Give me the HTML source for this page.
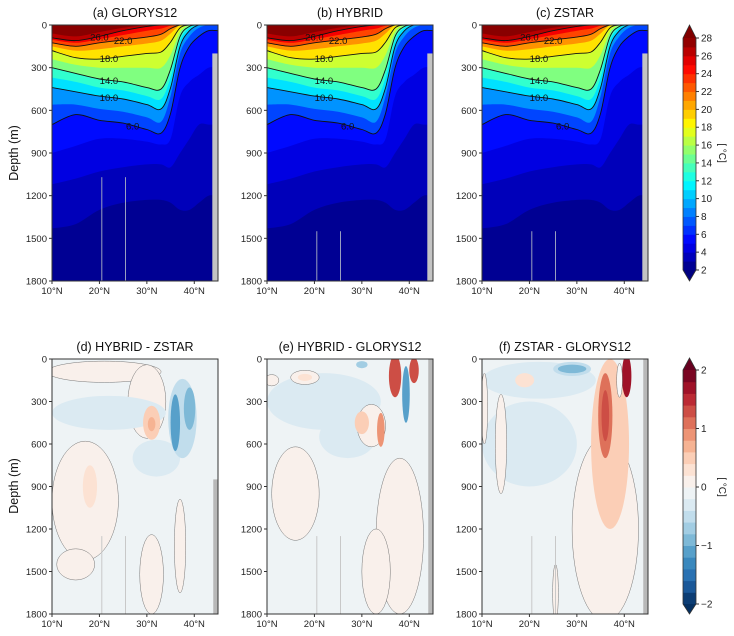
<!DOCTYPE html>
<html><head><meta charset="utf-8"><style>
html,body{margin:0;padding:0;background:#fff;}
svg{display:block;font-family:"Liberation Sans","DejaVu Sans",sans-serif;}
</style></head><body>
<svg id="fig" width="734" height="636" viewBox="0 0 734 636" xmlns="http://www.w3.org/2000/svg"></svg>
<script>
// ---------- data ----------
const lats = [10,15,20,25,30,33,35,37,39,41,43,45];
const isoLevels = [3,4,5,6,8,10,12,14,16,18,20,22,24,26,27];
const iso3  = [1430,1400,1300,1250,1230,1230,1250,1300,1300,1250,1200,1200];
const iso4  = [1120,1080,1030,1000,980,980,1000,900,800,700,700,700];
const iso5  = [900,850,800,800,820,840,800,500,400,350,300,300];
const iso6  = [700,630,670,690,735,760,620,300,150,80,40,40];
const iso8  = [560,560,590,610,650,680,500,200,80,20,0,0];
const iso10 = [440,470,500,520,560,590,440,150,40,0,0,0];
const iso12 = [370,400,440,460,500,520,370,110,20,0,0,0];
const iso14 = [300,340,380,400,440,450,310,80,10,0,0,0];
const iso16 = [240,280,300,300,300,300,210,50,0,0,0,0];
const iso18 = [180,230,240,220,200,190,120,20,0,0,0,0];
const iso20 = [150,180,170,150,130,110,60,0,0,0,0,0];
const iso22 = [125,150,125,105,85,65,25,0,0,0,0,0];
const iso24 = [105,125,100,70,40,25,5,0,0,0,0,0];
const iso26 = [90,110,80,40,10,0,0,0,0,0,0,0];
const iso27 = [60,80,50,20,0,0,0,0,0,0,0,0];
const isoCurves = [iso3,iso4,iso5,iso6,iso8,iso10,iso12,iso14,iso16,iso18,iso20,iso22,iso24,iso26,iso27];
const labelledLevels = [6,10,14,18,22,26];
const labelLat = [27,22,22,22,25,20];
const depthTicks = [0,300,600,900,1200,1500,1800];
const latTicks = [10,20,30,40];
const tempTicks = [2,4,6,8,10,12,14,16,18,20,22,24,26,28];
const diffTicks = [-2,-1,0,1,2];
const topTitles = ["(a) GLORYS12","(b) HYBRID","(c) ZSTAR"];
const botTitles = ["(d) HYBRID - ZSTAR","(e) HYBRID - GLORYS12","(f) ZSTAR - GLORYS12"];
// diff blobs: lat, depth, half-width (deg), half-height (m), value
const dLat = [21,30,22,32,17,18,31,37,31,31,37.5,36,39,15];
const dDep = [90,300,380,700,1000,900,1520,1320,450,460,420,450,350,1450];
const dW   = [12,4,12,5,7,1.5,2.5,1.2,1.8,0.8,3,1,1.2,4];
const dH   = [75,260,120,130,420,150,280,330,120,50,280,200,150,110];
const dVal = [0.1,0.1,-0.3,-0.3,0.1,0.3,0.1,0.1,0.5,0.7,-0.6,-1.0,-0.9,0.1];
const eLat = [22,27,11,18,18,32,30,34,16,38,33,37,39.3,41,30];
const eDep = [300,550,150,130,130,470,450,500,950,1250,1500,120,250,80,40];
const eW   = [12,6,1.5,3,1.5,3,1.5,0.8,5,5,3,1.3,0.8,1,1.2];
const eH   = [200,150,40,50,25,150,80,120,330,550,300,150,200,90,25];
const eVal = [-0.3,-0.3,0.1,0.1,0.3,0.1,0.5,0.8,0.1,0.1,0.1,1.4,-1.2,1.4,-0.7];
const fLat = [22,20,29,29,19,36,37,36,36,40.5,39,14,10.5,25.5];
const fDep = [150,600,70,70,150,1200,600,400,400,120,150,600,350,1650];
const fW   = [12,10,4,3,2,7,4,1.5,0.8,1,0.6,1.2,0.7,0.6];
const fH   = [130,300,50,30,50,650,600,300,180,150,120,350,250,200];
const fVal = [-0.3,-0.2,-0.6,-0.8,0.3,0.1,0.5,1.0,1.3,1.6,0.0,0.1,0.1,0.1];

// ---------- layout ----------
const NS = "http://www.w3.org/2000/svg";
const svg = document.getElementById('fig');
const px0 = [52,267,482], PW = 166;
const rowTop = [25,359], rowBot = [281,614];
function xS(p,lat){return px0[p] + (lat-10)/35*PW;}
function yS(r,d){return rowTop[r] + d/1800*(rowBot[r]-rowTop[r]);}
function mk(tag, attrs, parent){const e=document.createElementNS(NS,tag);for(const k in attrs)e.setAttribute(k,attrs[k]);(parent||svg).appendChild(e);return e;}
function clamp(v){return Math.max(0,Math.min(1,v));}
function jet(t){const r=clamp(1.5-Math.abs(4*t-3)),g=clamp(1.5-Math.abs(4*t-2)),b=clamp(1.5-Math.abs(4*t-1));return `rgb(${Math.round(r*255)},${Math.round(g*255)},${Math.round(b*255)})`;}
const rdStops=[[5,48,97],[33,102,172],[67,147,195],[146,197,222],[209,229,240],[247,247,247],[253,219,199],[244,165,130],[214,96,77],[178,24,43],[103,0,31]];
function rdbu(v){let t=(clamp((v+2)/4))*10;const i=Math.min(9,Math.floor(t)),f=t-i;const a=rdStops[i],b=rdStops[i+1];return `rgb(${Math.round(a[0]+(b[0]-a[0])*f)},${Math.round(a[1]+(b[1]-a[1])*f)},${Math.round(a[2]+(b[2]-a[2])*f)})`;}
function quant(v){return Math.sign(v)*(Math.floor(Math.abs(v)/0.2)*0.2+0.1);}
function smooth(pts){let d=`M${pts[0][0]},${pts[0][1]}`;for(let i=0;i<pts.length-1;i++){const p0=pts[Math.max(0,i-1)],p1=pts[i],p2=pts[i+1],p3=pts[Math.min(pts.length-1,i+2)];const c1=[p1[0]+(p2[0]-p0[0])/6,p1[1]+(p2[1]-p0[1])/6],c2=[p2[0]-(p3[0]-p1[0])/6,p2[1]-(p3[1]-p1[1])/6];d+=` C${c1[0].toFixed(1)},${c1[1].toFixed(1)} ${c2[0].toFixed(1)},${c2[1].toFixed(1)} ${p2[0].toFixed(1)},${p2[1].toFixed(1)}`;}return d;}

function axes(p,r,g){
  const x0=px0[p],y0=rowTop[r],y1=rowBot[r];
  mk('rect',{x:x0,y:y0,width:PW,height:y1-y0,fill:'none',stroke:'#333','stroke-width':1,},g);
  depthTicks.forEach(d=>{const y=yS(r,d);mk('line',{x1:x0-3,x2:x0,y1:y,y2:y,stroke:'#333'},g);
    const t=mk('text',{x:x0-5,y:y+3.5,'font-size':9.5,'text-anchor':'end',fill:'#222',},g);t.textContent=d;});
  latTicks.forEach(l=>{const x=xS(p,l);mk('line',{x1:x,x2:x,y1:y1,y2:y1+3,stroke:'#333'},g);
    const t=mk('text',{x:x,y:y1+13,'font-size':9.5,'text-anchor':'middle',fill:'#222',},g);t.textContent=l+'°N';});
}

// ---------- top panels ----------
for(let p=0;p<3;p++){
  const g=mk('g',{});
  const cid='clipT'+p;
  const cp=mk('clipPath',{id:cid},g);mk('rect',{x:px0[p],y:rowTop[0],width:PW,height:rowBot[0]-rowTop[0]},cp);
  const gc=mk('g',{'clip-path':`url(#${cid})`},g);
  mk('rect',{x:px0[p],y:rowTop[0],width:PW,height:256,fill:jet(0.5/26),},gc);
  isoLevels.forEach((L,i)=>{
    const next=i<isoLevels.length-1?isoLevels[i+1]:28.5;
    const pts=lats.map((la,k)=>[xS(p,la),yS(0,isoCurves[i][k])]);
    const d=`M${xS(p,10)},${rowTop[0]-2} L${pts[0][0]},${pts[0][1]} `+smooth(pts).slice(1).replace(/^[^C]*/, m=>'L'+m)+` L${xS(p,45)},${rowTop[0]-2} Z`;
    mk('path',{d:d,fill:jet(((L+next)/2-2)/26),},gc);
  });
  isoLevels.forEach((L,i)=>{
    const li=labelledLevels.indexOf(L);if(li<0)return;
    const pts=lats.map((la,k)=>[xS(p,la),yS(0,isoCurves[i][k])]);
    mk('path',{d:smooth(pts),fill:'none',stroke:'#111','stroke-width':0.9,},gc);
    const la=labelLat[li];let k=0;while(lats[k+1]<la)k++;const f=(la-lats[k])/(lats[k+1]-lats[k]);
    const dep=isoCurves[i][k]+(isoCurves[i][k+1]-isoCurves[i][k])*f;
    const x=xS(p,la),y=yS(0,dep);
    const t=mk('text',{x:x,y:y+4,'font-size':9.5,'text-anchor':'middle',fill:'#111',},gc);t.textContent=L.toFixed(1);
  });
  mk('rect',{x:xS(p,43.8),y:yS(0,200),width:xS(p,45)-xS(p,43.8),height:yS(0,1800)-yS(0,200),fill:'#c4c4c4',},gc);
  [20.5,25.5].forEach(l=>mk('line',{x1:xS(p,l),x2:xS(p,l),y1:yS(0,p==0?1070:1450),y2:rowBot[0],stroke:'#9aa0c0','stroke-width':1,},gc));
  axes(p,0,g);
  const t=mk('text',{x:px0[p]+PW/2,y:17,'font-size':12.5,'text-anchor':'middle',fill:'#111',},g);t.textContent=topTitles[p];
}

// ---------- bottom panels ----------
const diffSets=[[dLat,dDep,dW,dH,dVal],[eLat,eDep,eW,eH,eVal],[fLat,fDep,fW,fH,fVal]];
for(let p=0;p<3;p++){
  const g=mk('g',{});
  const cid='clipB'+p;
  const cp=mk('clipPath',{id:cid},g);mk('rect',{x:px0[p],y:rowTop[1],width:PW,height:rowBot[1]-rowTop[1]},cp);
  const gc=mk('g',{'clip-path':`url(#${cid})`},g);
  mk('rect',{x:px0[p],y:rowTop[1],width:PW,height:255,fill:rdbu(-0.1),},gc);
  const [A,B,C,D,V]=diffSets[p];
  for(let i=0;i<A.length;i++){
    const cx=xS(p,A[i]),cy=yS(1,B[i]),rx=C[i]/35*PW,ry=D[i]/1800*255;
    const q=V[i]===0?0:quant(V[i]);
    const e=mk('ellipse',{cx:cx,cy:cy,rx:rx,ry:ry,fill:V[i]===0?'#f7f7f7':rdbu(q),stroke:(Math.abs(V[i])<0.15)?'#777':'none','stroke-width':0.5},gc);
    
    
  }
  mk('rect',{x:xS(p,44),y:yS(1,p==0?850:0),width:xS(p,45)-xS(p,44),height:yS(1,1800)-yS(1,p==0?850:0),fill:'#b8b8b8',},gc);
  [20.5,25.5].forEach(l=>mk('line',{x1:xS(p,l),x2:xS(p,l),y1:yS(1,1250),y2:rowBot[1],stroke:'#c8c8c8','stroke-width':1,},gc));
  axes(p,1,g);
  const t=mk('text',{x:px0[p]+PW/2,y:351,'font-size':12.5,'text-anchor':'middle',fill:'#111',},g);t.textContent=botTitles[p];
}

// ---------- y-axis titles ----------
[153,486].forEach(cy=>{const t=mk('text',{x:0,y:0,transform:`translate(18,${cy}) rotate(-90)`,'font-size':12.5,'text-anchor':'middle',fill:'#111',});t.textContent='Depth (m)';});

// ---------- colorbars ----------
function colorbar(name,x,tip0,b0,b1,tip1,vmin,vmax,n,cf,ticks,fmt,labelY){
  const g=mk('g',{});
  const w=13,h=(b1-b0)/n;
  for(let i=0;i<n;i++){const v=vmin+(i+0.5)*(vmax-vmin)/n;mk('rect',{x:x,y:b1-(i+1)*h,width:w,height:h+0.5,fill:cf(v)},g);}
  mk('path',{d:`M${x},${b0} L${x+w/2},${tip0} L${x+w},${b0} Z`,fill:cf(vmax+1),},g);
  mk('path',{d:`M${x},${b1} L${x+w/2},${tip1} L${x+w},${b1} Z`,fill:cf(vmin-1),},g);
  mk('path',{d:`M${x},${b0} L${x+w/2},${tip0} L${x+w},${b0} L${x+w},${b1} L${x+w/2},${tip1} L${x},${b1} Z`,fill:'none',stroke:'#333','stroke-width':0.8},g);
  ticks.forEach(v=>{const y=b1-(v-vmin)/(vmax-vmin)*(b1-b0);mk('line',{x1:x+w,x2:x+w+3,y1:y,y2:y,stroke:'#333'},g);
    const t=mk('text',{x:x+w+5,y:y+3.5,'font-size':10,fill:'#222',},g);t.textContent=fmt(v);});
  const t=mk('text',{x:0,y:0,transform:`translate(719,${labelY}) rotate(90)`,'font-size':10,'text-anchor':'middle',fill:'#222',},g);t.textContent='[ °C]';
}
colorbar('temperature-colorbar',683,25,38,270,281,2,28,26,v=>jet(clamp((v-2)/26)),tempTicks,v=>v,153);
colorbar('difference-colorbar',683,358,370,604,614,-2,2,20,v=>rdbu(quant(Math.max(-2.1,Math.min(2.1,v)))),diffTicks,v=>v<0?'−'+(-v):v,487);
</script>
</body></html>
